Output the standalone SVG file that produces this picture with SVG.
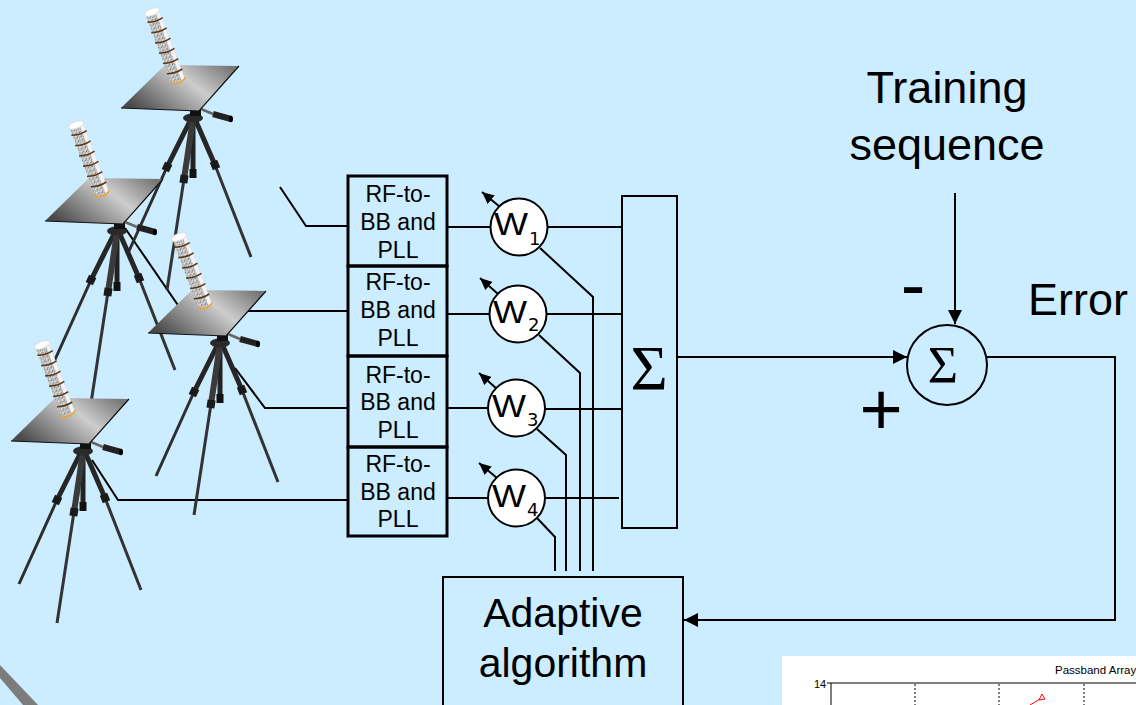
<svg xmlns="http://www.w3.org/2000/svg" xmlns:xlink="http://www.w3.org/1999/xlink" width="1136" height="705" viewBox="0 0 1136 705">
<style>
.ln{fill:none;stroke:#000;stroke-width:2}
.box{fill:none;stroke:#000;stroke-width:3}
.bx2{fill:none;stroke:#000;stroke-width:2}
.sans{font-family:"Liberation Sans",Arial,sans-serif;fill:#000}
.dj{font-family:"DejaVu Sans",sans-serif;fill:#000}
.serif{font-family:"Liberation Serif","Times New Roman",serif;fill:#000}
.rf{font-size:23px;text-anchor:middle}
.wc{fill:#fff;stroke:#000;stroke-width:2}
</style>
<defs>
<marker id="ah" viewBox="0 0 14 14" refX="14" refY="7" markerWidth="14" markerHeight="14" orient="auto" markerUnits="userSpaceOnUse"><path d="M0,0 L14,7 L0,14 z" fill="#000"/></marker>
<marker id="ahs" viewBox="0 0 12 11" refX="12" refY="5.5" markerWidth="12" markerHeight="11" orient="auto" markerUnits="userSpaceOnUse"><path d="M0,0 L12,5.5 L0,11 z" fill="#000"/></marker>
<linearGradient id="plateG" x1="0" y1="0.7" x2="1" y2="0.2">
<stop offset="0" stop-color="#4a4a4a"/><stop offset="0.6" stop-color="#cdcdcd"/><stop offset="1" stop-color="#777"/>
</linearGradient>
<pattern id="speck" width="4" height="4" patternUnits="userSpaceOnUse">
<rect width="4" height="4" fill="#c4c4c4"/><rect x="0" y="0" width="1" height="1" fill="#6e6e6e"/><rect x="2" y="1" width="1" height="1" fill="#909090"/><rect x="1" y="3" width="1" height="1" fill="#808080"/><rect x="3" y="2" width="1" height="1" fill="#efefef"/><rect x="1" y="1" width="1" height="1" fill="#e0e0e0"/>
</pattern>
<g id="tripod">
<g stroke-linecap="butt">
<line x1="-2" y1="2" x2="-26" y2="50" stroke="#262626" stroke-width="5"/>
<line x1="-26" y1="50" x2="-64" y2="134" stroke="#2e2e2e" stroke-width="3"/>
<line x1="-24.3" y1="46.4" x2="-27.7" y2="53.6" stroke="#1a1a1a" stroke-width="8"/>
<line x1="2" y1="2" x2="22" y2="48" stroke="#262626" stroke-width="5"/>
<line x1="22" y1="48" x2="58" y2="140" stroke="#333" stroke-width="3"/>
<line x1="20.5" y1="44.3" x2="23.5" y2="51.7" stroke="#1a1a1a" stroke-width="8"/>
<rect x="-2.5" y="0" width="5" height="56" fill="#222"/>
<rect x="-3.5" y="52" width="7" height="9" fill="#111"/>
<line x1="0" y1="2" x2="-9" y2="62" stroke="#3a3a3a" stroke-width="6"/>
<line x1="-9" y1="62" x2="-26" y2="173" stroke="#333" stroke-width="3"/>
<line x1="-8.4" y1="58" x2="-9.6" y2="66" stroke="#1a1a1a" stroke-width="8"/>
</g>
<ellipse cx="0" cy="1" rx="10" ry="4.5" fill="#2a2a2a"/>
<rect x="-3" y="-12" width="11" height="11" fill="#111"/>
<line x1="8" y1="-8" x2="20" y2="-3" stroke="#666" stroke-width="2.5"/>
<line x1="20" y1="-3" x2="38" y2="2" stroke="#222" stroke-width="6"/>
<ellipse cx="38" cy="2" rx="2" ry="3.2" fill="#000"/>
<polygon points="-72,-9 -28,-52 46,-51 6,-6" fill="url(#plateG)"/>
<polyline points="-72,-9 6,-6 46,-51" fill="none" stroke="#111" stroke-width="1.2"/>
<g transform="translate(-41,-105) rotate(-20.8)">
<rect x="-7" y="0" width="14" height="74" fill="url(#speck)"/>
<rect x="3.5" y="0" width="3.5" height="74" fill="#f4f4f4"/>
<g stroke="#5a3a1a" stroke-width="1.6" fill="none">
<path d="M-8,8 Q0,11 8,9"/><path d="M-8,19 Q0,22 8,20"/><path d="M-8,30 Q0,33 8,31"/><path d="M-8,41 Q0,44 8,42"/><path d="M-8,52 Q0,55 8,53"/><path d="M-8,63 Q0,66 8,64"/>
</g>
<path d="M-8,73 Q0,79 8,73" fill="none" stroke="#f0a030" stroke-width="1.6"/>
<ellipse cx="0" cy="0" rx="8" ry="3.5" fill="#fff" stroke="#ddd" stroke-width="1"/>
</g>
</g>
</defs>
<rect width="1136" height="705" fill="#CCECFF"/>
<g id="connectors">
<polyline class="ln" points="280,187 306,226 348,226"/>
<polyline class="ln" points="125,228 182,311 347,311"/>
<polyline class="ln" points="235,368 265,408 347,408"/>
<polyline class="ln" points="92,460 118,500 347,500"/>
<line class="ln" x1="447" y1="227" x2="491" y2="227"/>
<line class="ln" x1="447" y1="314" x2="491" y2="314"/>
<line class="ln" x1="446" y1="408" x2="489" y2="408"/>
<line class="ln" x1="446" y1="498" x2="489" y2="498"/>
<line class="ln" x1="548" y1="227" x2="623" y2="227"/>
<line class="ln" x1="547" y1="314" x2="622" y2="314"/>
<line class="ln" x1="545" y1="409" x2="622" y2="409"/>
<line class="ln" x1="545" y1="498" x2="619" y2="498"/>
<line class="ln" x1="500" y1="207" x2="482" y2="192" marker-end="url(#ahs)"/>
<line class="ln" x1="498" y1="294" x2="480" y2="278" marker-end="url(#ahs)"/>
<line class="ln" x1="497" y1="389" x2="479" y2="373" marker-end="url(#ahs)"/>
<line class="ln" x1="497" y1="478" x2="479" y2="463" marker-end="url(#ahs)"/>
<polyline class="ln" points="540,248 593,297 593,571"/>
<polyline class="ln" points="539,335 580,373 580,571"/>
<polyline class="ln" points="537,429 566,455 566,571"/>
<polyline class="ln" points="537,518 555,537 555,571"/>
<line class="ln" x1="677" y1="357" x2="907" y2="357" marker-end="url(#ah)"/>
<line class="ln" x1="955" y1="193" x2="955" y2="324" marker-end="url(#ah)"/>
<polyline class="ln" points="987,357 1115,357 1115,620 684,620" marker-end="url(#ah)"/>
</g>
<g id="antenna1"><use xlink:href="#tripod" transform="translate(193,117)"/></g>
<g id="antenna2"><use xlink:href="#tripod" transform="translate(117,230)"/></g>
<g id="antenna3"><use xlink:href="#tripod" transform="translate(220,342)"/></g>
<g id="antenna4"><use xlink:href="#tripod" transform="translate(83,450)"/></g>
<g id="rf1"><rect class="box" x="348" y="176" width="99" height="90"/>
<text class="sans rf" x="398" y="202">RF-to-</text><text class="sans rf" x="398" y="230">BB and</text><text class="sans rf" x="398" y="258">PLL</text></g>
<g id="rf2"><rect class="box" x="348" y="266" width="99" height="90"/>
<text class="sans rf" x="398" y="290">RF-to-</text><text class="sans rf" x="398" y="318">BB and</text><text class="sans rf" x="398" y="346">PLL</text></g>
<g id="rf3"><rect class="box" x="348" y="356" width="99" height="91"/>
<text class="sans rf" x="398" y="383">RF-to-</text><text class="sans rf" x="398" y="410">BB and</text><text class="sans rf" x="398" y="438">PLL</text></g>
<g id="rf4"><rect class="box" x="348" y="447" width="99" height="89"/>
<text class="sans rf" x="398" y="472">RF-to-</text><text class="sans rf" x="398" y="500">BB and</text><text class="sans rf" x="398" y="527">PLL</text></g>
<g id="w1"><circle class="wc" cx="519" cy="227" r="28.5"/><text class="sans" x="494" y="235" font-size="31" textLength="34" lengthAdjust="spacingAndGlyphs">W</text><text class="dj" x="529" y="245" font-size="18">1</text></g>
<g id="w2"><circle class="wc" cx="518" cy="314" r="28.5"/><text class="sans" x="493" y="323" font-size="31" textLength="34" lengthAdjust="spacingAndGlyphs">W</text><text class="dj" x="528" y="331" font-size="18">2</text></g>
<g id="w3"><circle class="wc" cx="516.5" cy="408" r="28.5"/><text class="sans" x="492" y="417" font-size="31" textLength="34" lengthAdjust="spacingAndGlyphs">W</text><text class="dj" x="527" y="426" font-size="18">3</text></g>
<g id="w4"><circle class="wc" cx="516.5" cy="498" r="28.5"/><text class="sans" x="492" y="507" font-size="31" textLength="34" lengthAdjust="spacingAndGlyphs">W</text><text class="dj" x="527" y="516" font-size="18">4</text></g>
<g id="sumbox"><rect class="bx2" x="622" y="196" width="55" height="332"/><text class="serif" x="649" y="390" font-size="64" text-anchor="middle">Σ</text></g>
<g id="sumcircle"><circle cx="947" cy="365" r="40" fill="none" stroke="#000" stroke-width="2"/><text class="serif" x="943" y="383" font-size="52" text-anchor="middle">Σ</text></g>
<g id="training"><text class="sans" x="947" y="103" font-size="45" text-anchor="middle">Training</text><text class="sans" x="947" y="160" font-size="45" text-anchor="middle">sequence</text></g>
<g id="minus"><text class="sans" x="913" y="310" font-size="74" text-anchor="middle">-</text></g>
<g id="plus"><text class="sans" x="881" y="435" font-size="74" text-anchor="middle">+</text></g>
<g id="error"><text class="sans" x="1028" y="315" font-size="45">Error</text></g>
<g id="adaptive"><rect class="bx2" x="443" y="577" width="240" height="140"/><text class="sans" x="563" y="627" font-size="41" text-anchor="middle">Adaptive</text><text class="sans" x="563" y="677" font-size="41" text-anchor="middle">algorithm</text></g>
<g id="chart">
<rect x="782" y="656" width="360" height="60" fill="#fff"/>
<text class="sans" x="1055" y="674" font-size="11.5">Passband Array</text>
<text class="sans" x="814" y="688" font-size="11">14</text>
<polyline points="831,710 831,683 1140,683" fill="none" stroke="#000" stroke-width="1"/>
<line x1="827" y1="683" x2="831" y2="683" stroke="#000" stroke-width="1"/>
<g stroke="#000" stroke-width="1" stroke-dasharray="2,2"><line x1="915" y1="684" x2="915" y2="705"/><line x1="999" y1="684" x2="999" y2="705"/><line x1="1084" y1="684" x2="1084" y2="705"/></g>
<path d="M1030,705 L1040,699 M1039,700 L1042,694 L1045,699 Z" fill="none" stroke="#f00" stroke-width="1"/>
</g>
<polygon points="0,665 38,705 23,705 0,678" fill="#7c7c7c"/>
</svg>
